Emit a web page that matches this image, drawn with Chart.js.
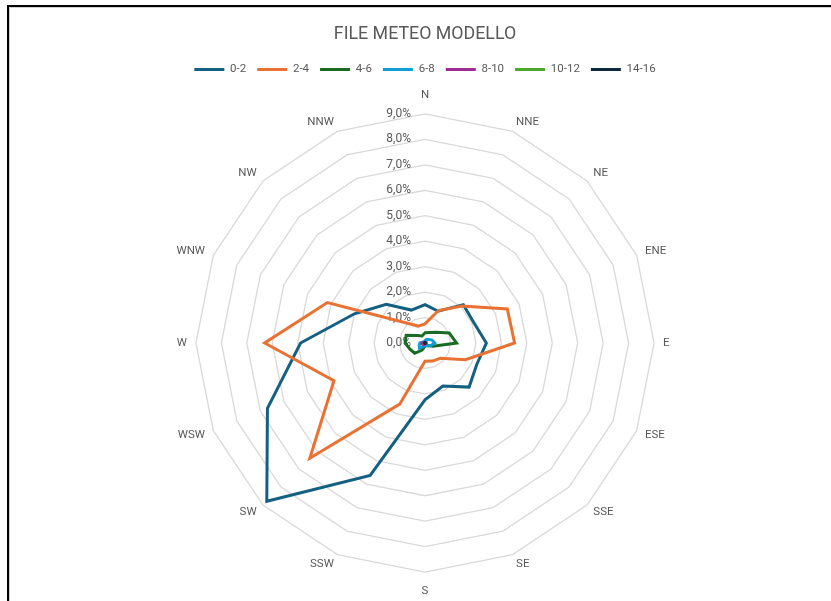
<!DOCTYPE html>
<html>
<head>
<meta charset="utf-8">
<script src="https://cdn.jsdelivr.net/npm/chart.js@4.4.1/dist/chart.umd.min.js"></script>
<style>
  html, body { margin: 0; padding: 0; background: #fff; }
  #frame {
    position: absolute; left: 7px; top: 5px; width: 900px; height: 700px;
    border-left: 2px solid #000; border-top: 2px solid #000;
    box-shadow: inset 1px 1px 0 #d0d0d0;
  }
  #myChart { position: absolute; left: 0; top: 0; }
</style>
</head>
<body>
<div id="frame"></div>
<canvas id="myChart" width="831" height="601"></canvas>
<script>
const ctx = document.getElementById('myChart');

// category order as in the source sheet (SSE comes before SE)
const directions = ['N', 'NNE', 'NE', 'ENE', 'E', 'ESE', 'SSE', 'SE', 'S', 'SSW', 'SW', 'WSW', 'W', 'WNW', 'NW', 'NNW'];
const seriesNames = ['0-2', '2-4', '4-6', '6-8', '8-10', '10-12', '14-16'];
const seriesColors = ['#156082', '#E97132', '#196B24', '#0F9ED5', '#A02B93', '#4EA72E', '#0E2841'];

// frequency in % per direction
const speed0_2 = [1.51, 1.35, 2.13, 2.08, 2.41, 2.2, 2.45, 1.83, 2.23, 5.63, 8.79, 6.7, 4.89, 3.0, 2.15, 1.4];
const speed2_4 = [0.75, 1.38, 2.05, 3.5, 3.52, 1.72, 0.85, 0.77, 0.72, 2.6, 6.4, 3.87, 6.3, 4.15, 1.14, 0.72];
const speed4_6 = [0.4, 0.45, 0.6, 1.03, 1.24, 0.34, 0.14, 0.12, 0.12, 0.3, 0.57, 0.64, 0.78, 0.8, 0.42, 0.3];
const speed6_8 = [0.1, 0.15, 0.2, 0.3, 0.38, 0.25, 0.15, 0.1, 0.1, 0.15, 0.3, 0.25, 0.2, 0.1, 0.05, 0.05];
const speed8_10 = [0.03, 0.03, 0.03, 0.05, 0.05, 0.03, 0.03, 0.03, 0.03, 0.05, 0.1, 0.12, 0.12, 0.05, 0.03, 0.03];
const speed10_12 = [0.02, 0.02, 0.02, 0.02, 0.03, 0.02, 0.02, 0.02, 0.02, 0.02, 0.03, 0.03, 0.03, 0.02, 0.02, 0.02];
const speed14_16 = [0.02, 0.02, 0.02, 0.02, 0.02, 0.02, 0.02, 0.02, 0.02, 0.02, 0.02, 0.02, 0.02, 0.02, 0.02, 0.02];

const allSeries = [speed0_2, speed2_4, speed4_6, speed6_8, speed8_10, speed10_12, speed14_16];

Chart.defaults.font.family = 'Roboto';
Chart.defaults.color = '#595959';

// tick labels sit left of the vertical axis, including 0,0%
const tickLabels = {
    id: 'tickLabels',
    beforeDatasetsDraw(chart) {
        const r = chart.scales.r;
        const c = chart.ctx;
        c.save();
        c.font = '12px Roboto';
        c.fillStyle = '#595959';
        c.textAlign = 'right';
        c.textBaseline = 'middle';
        r.ticks.forEach(t => {
            const d = r.getDistanceFromCenterForValue(t.value);
            c.fillText(t.value.toFixed(1).replace('.', ',') + '%', r.xCenter - 14, r.yCenter - d);
        });
        c.restore();
    }
};

const myChart = new Chart(ctx, {
    type: 'radar',
    data: {
        labels: directions,
        datasets: allSeries.map((values, i) => ({
            label: seriesNames[i],
            data: values,
            borderColor: seriesColors[i],
            backgroundColor: seriesColors[i],
            borderWidth: 3,
            fill: false,
            pointRadius: 0,
            pointHoverRadius: 0,
            pointStyle: 'line',
            order: allSeries.length - i
        }))
    },
    options: {
        responsive: false,
        animation: false,
        layout: {
            padding: { left: 19, right: 0, top: 0, bottom: 0 }
        },
        scales: {
            r: {
                min: 0,
                max: 9,
                ticks: {
                    stepSize: 1,
                    display: false
                },
                grid: {
                    color: '#d9d9d9',
                    lineWidth: 1.3
                },
                angleLines: {
                    display: false
                },
                pointLabels: {
                    color: '#595959',
                    padding: 9,
                    // top and bottom labels keep a tall box, the others hug the polygon
                    font: (c) => ({
                        size: 11.5,
                        lineHeight: (c.index === 0 || c.index === 8) ? 1.7 : 0.2
                    })
                }
            }
        },
        plugins: {
            title: {
                display: true,
                text: 'FILE METEO MODELLO',
                color: '#595959',
                font: {
                    size: 17.8,
                    weight: 'normal'
                },
                padding: { top: 23.5, bottom: 8 }
            },
            legend: {
                position: 'top',
                labels: {
                    usePointStyle: true,
                    pointStyleWidth: 30,
                    padding: 11,
                    color: '#595959',
                    font: {
                        size: 11.5
                    },
                    sort: (a, b) => a.datasetIndex - b.datasetIndex
                }
            },
            tooltip: {
                enabled: false
            }
        }
    },
    plugins: [tickLabels]
});
</script>
</body>
</html>
